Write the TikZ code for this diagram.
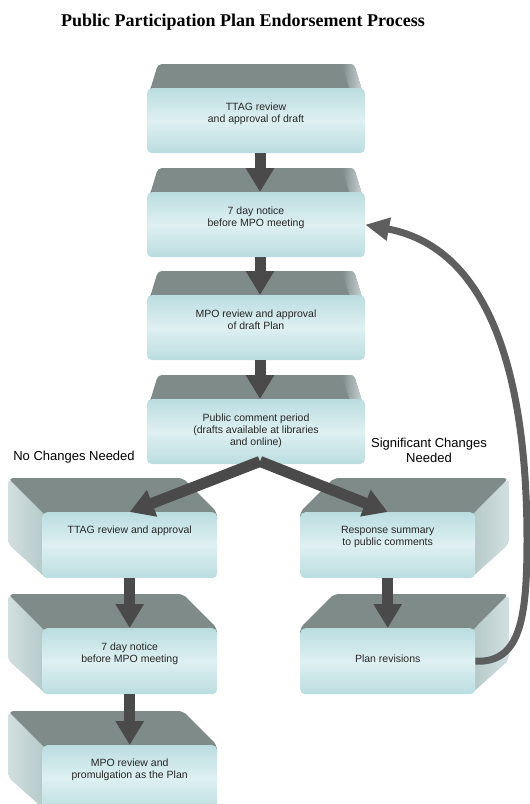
\documentclass[tikz,border=0pt]{standalone}
\usepackage{fontspec}
\setmainfont{Liberation Sans}
\newfontfamily\titlefont{Liberation Serif}
\usetikzlibrary{arrows.meta}

\definecolor{topgrey}{HTML}{7F8B89}
\definecolor{sidegrey}{HTML}{B4C8C8}
\definecolor{sidelight}{HTML}{D2DFDF}
\definecolor{faceedge}{HTML}{BBDDE0}
\definecolor{facemid}{HTML}{DEF0F2}
\definecolor{arrowgrey}{HTML}{4A4A4A}
\definecolor{curvegrey}{HTML}{5E5E5E}

\tikzset{
  front/.style={rounded corners=5pt, top color=faceedge, bottom color=faceedge, middle color=facemid, inner sep=0pt, draw=none},
  boxtext/.style={font=\fontsize{10.5}{12}\selectfont, align=center, inner sep=0pt, text=black!85},
  lbl/.style={font=\fontsize{13}{15}\selectfont, align=center, inner sep=0pt},
  flowarrow/.style={draw=arrowgrey, line width=11pt, -{Triangle[width=27pt,length=24pt]}},
  backarrow/.style={draw=curvegrey, line width=7pt, -{Triangle[width=22pt,length=24pt]}},
}

% centre box: name, centre x, top of front face, text
\newcommand\cbox[4]{%
  \fill[topgrey, rounded corners=4pt] (#2-98,#3-24) -- (#2+98,#3-24) -- (#2+109,#3+12) -- (#2-109,#3+12) -- cycle;
  \shade[left color=topgrey, right color=sidelight, rounded corners=3pt] (#2+86,#3-24) -- (#2+98,#3-24) -- (#2+109,#3+12) -- (#2+97,#3+12) -- cycle;
  \node[front, minimum width=218pt, minimum height=65pt, anchor=north] (#1) at (#2,#3) {};
  \node[boxtext, anchor=north] at ([yshift=-14.5pt]#1.north) {#4};
}
% left box: name, left x of front face, top of front face, text offset, text
\newcommand\lbox[5]{%
  \fill[topgrey, rounded corners=5pt] (#2-34,#3-34) -- (#2+141,#3-34) -- (#2+175,#3) -- (#2+175,#3+12) -- (#2,#3+12) -- cycle;
  \shade[left color=sidelight, right color=sidegrey, rounded corners=5pt] (#2-34,#3-34) -- (#2+4,#3+4) -- (#2+4,#3+66) -- (#2-34,#3+32) -- cycle;
  \node[front, minimum width=175pt, minimum height=66pt, anchor=north west] (#1) at (#2,#3) {};
  \node[boxtext, anchor=north] at ([yshift=-#4pt]#1.north) {#5};
}
% right box: name, left x of front face, top of front face, text offset, text
\newcommand\rbox[5]{%
  \fill[topgrey, rounded corners=5pt] (#2+34,#3-34) -- (#2+209,#3-34) -- (#2+175,#3) -- (#2+175,#3+12) -- (#2,#3+12) -- (#2,#3) -- cycle;
  \shade[left color=sidegrey, right color=sidelight, rounded corners=5pt] (#2+209,#3-34) -- (#2+171,#3+4) -- (#2+171,#3+66) -- (#2+209,#3+32) -- cycle;
  \node[front, minimum width=175pt, minimum height=66pt, anchor=north west] (#1) at (#2,#3) {};
  \node[boxtext, anchor=north] at ([yshift=-#4pt]#1.north) {#5};
}

\begin{document}
\begin{tikzpicture}[x=1pt,y=-1pt]
  \clip (0,0) rectangle (530,804);
  \fill[white] (0,0) rectangle (530,804);

  \node[font=\titlefont\bfseries\fontsize{18}{20}\selectfont, anchor=base, inner sep=0pt] (title) at (243,26) {Public Participation Plan Endorsement Process};

  \cbox{b1}{256}{88}{TTAG review\\and approval of draft}
  \cbox{b2}{256}{192}{7 day notice\\before MPO meeting}
  \cbox{b3}{256}{295}{MPO review and approval\\of draft Plan}
  \cbox{b4}{256}{399}{Public comment period\\(drafts available at libraries\\and online)}

  \lbox{l1}{42}{512}{14}{TTAG review and approval}
  \lbox{l2}{42}{628}{15}{7 day notice\\before MPO meeting}
  \lbox{l3}{42}{745}{14}{MPO review and\\promulgation as the Plan}

  \rbox{r1}{300}{512}{14}{Response summary\\to public comments}
  \rbox{r2}{300}{628}{27}{Plan revisions}

  \node[lbl, anchor=north] (nochg) at (74,450.5) {No Changes Needed};
  \node[lbl, anchor=north] (sigchg) at (429,438) {Significant Changes\\Needed};

  \draw[flowarrow] ([xshift=4pt]b1.south) -- ([xshift=4pt]b2.north);
  \draw[flowarrow] ([xshift=4pt]b2.south) -- ([xshift=4pt]b3.north);
  \draw[flowarrow] ([xshift=4pt]b3.south) -- ([xshift=4pt]b4.north);
  \draw[flowarrow] ([xshift=4pt,yshift=3pt]b4.south) -- (l1.north);
  \draw[flowarrow] ([xshift=4pt,yshift=3pt]b4.south) -- (r1.north);
  \draw[flowarrow] (l1.south) -- (l2.north);
  \draw[flowarrow] (l2.south) -- (l3.north);
  \draw[flowarrow] (r1.south) -- (r2.north);

  \draw[backarrow] (r2.east) .. controls (520,663) and (527,620) .. (527,540)
                   .. controls (527,400) and (500,250) .. (b2.east);
\end{tikzpicture}
\end{document}
